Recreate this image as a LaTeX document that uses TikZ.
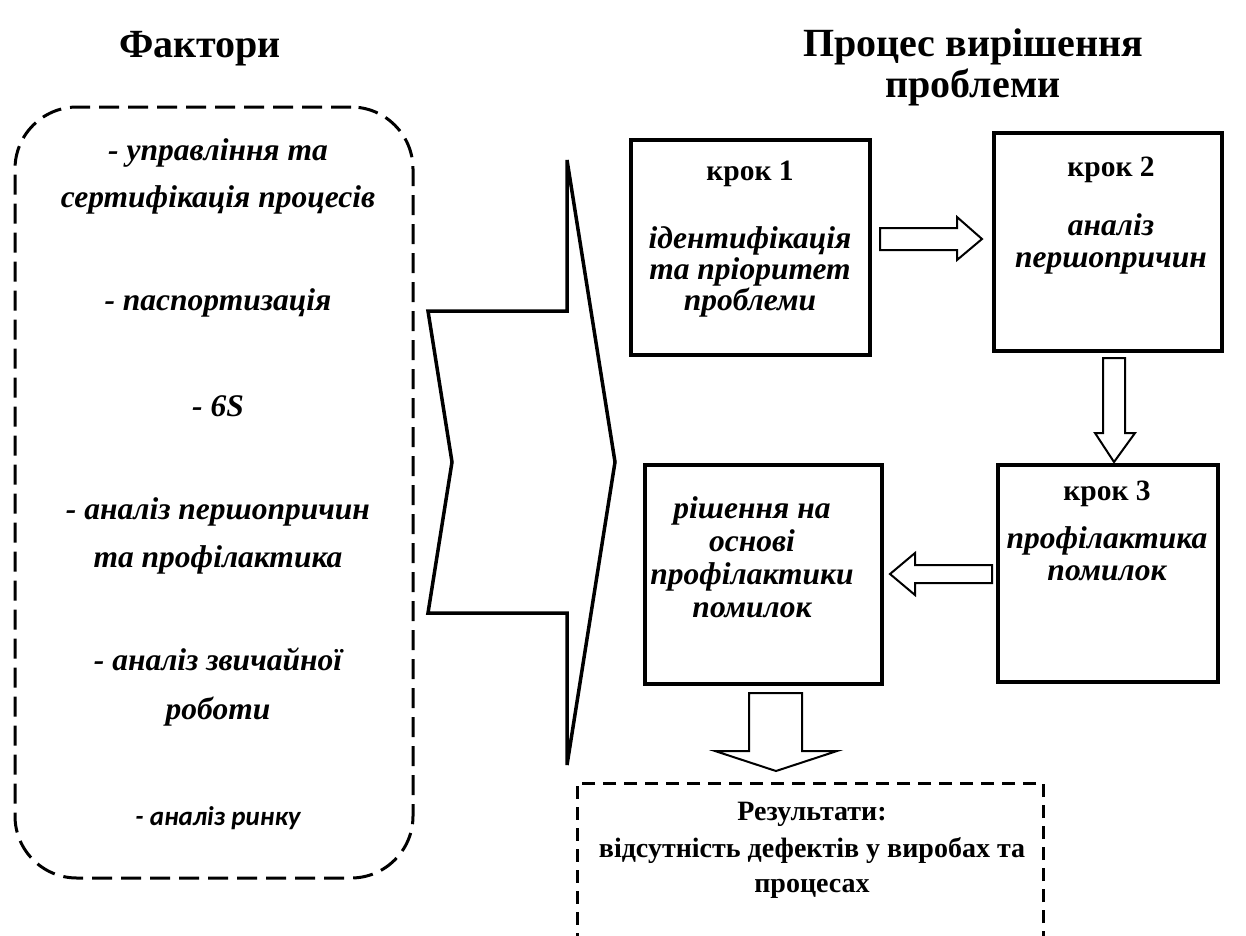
\documentclass[tikz,border=0pt]{standalone}
\usepackage{fontspec}
\setmainfont{Liberation Serif}
\newfontfamily\calfont{Carlito}
\begin{document}
\begin{tikzpicture}[x=1pt,y=-1pt,
  stepbox/.style={draw, line width=3.2pt, inner sep=0pt},
  dashbox/.style={draw, line width=3pt, inner sep=0pt, dash pattern=on 20pt off 9pt},
  hollow/.style={draw, line width=2pt, fill=white, line join=miter},
  bigarrow/.style={draw, line width=3.5pt, line join=miter},
  ttl/.style={font=\bfseries\fontsize{40}{44}\selectfont, anchor=base},
  stp/.style={font=\bfseries\fontsize{29.5}{31}\selectfont, anchor=base},
  res/.style={font=\bfseries\fontsize{28}{30}\selectfont, anchor=base},
  itl/.style={font=\bfseries\itshape\fontsize{31.5}{33}\selectfont, anchor=base},
  sanstl/.style={font=\calfont\bfseries\itshape\fontsize{27}{29}\selectfont, anchor=base}]
\useasboundingbox (0,0) rectangle (1246,935);

% titles
\node[ttl] (tf) at (200,57) {Фактори};
\node[ttl] (tp1) at (973,56) {Процес вирішення};
\node[ttl] (tp2) at (973,97) {проблеми};

% factors frame
\node[dashbox, rounded corners=62pt, minimum width=398pt, minimum height=771pt] (fbox) at (214,492.5) {};
\node[itl] (f1) at (218,160) {- управління та};
\node[itl] (f2) at (218,207) {сертифікація процесів};
\node[itl] (f3) at (218,310) {- паспортизація};
\node[itl] (f4) at (218,416) {- 6S};
\node[itl] (f5) at (218,519) {- аналіз першопричин};
\node[itl] (f6) at (218,567) {та профілактика};
\node[itl] (f7) at (218,670) {- аналіз звичайної};
\node[itl] (f8) at (218,719) {роботи};
\node[sanstl] (f9) at (218,825) {- аналіз ринку};

% large arrow from the factors to the process
\draw[bigarrow] (567,160) -- (567,311) -- (428,311) -- (452,462) -- (428,613)
  -- (567,613) -- (567,765) -- (615,462) -- cycle;

% process steps
\node[stepbox, minimum width=239pt, minimum height=215pt] (s1) at (750.5,247.5) {};
\node[stepbox, minimum width=228pt, minimum height=218pt] (s2) at (1108,242) {};
\node[stepbox, minimum width=220pt, minimum height=217pt] (s3) at (1108,573.5) {};
\node[stepbox, minimum width=237pt, minimum height=219pt] (s4) at (763.5,574.5) {};

\node[stp] (s1a) at (750,180) {крок 1};
\node[itl] (s1b) at (750,248) {ідентифікація};
\node[itl] (s1c) at (750,279) {та пріоритет};
\node[itl] (s1d) at (750,310) {проблеми};

\node[stp] (s2a) at (1111,176) {крок 2};
\node[itl] (s2b) at (1111,235) {аналіз};
\node[itl] (s2c) at (1111,267) {першопричин};

\node[stp] (s3a) at (1107,500) {крок 3};
\node[itl] (s3b) at (1107,548) {профілактика};
\node[itl] (s3c) at (1107,580) {помилок};

\node[itl] (s4a) at (752,518) {рішення на};
\node[itl] (s4b) at (752,551) {основі};
\node[itl] (s4c) at (752,584) {профілактики};
\node[itl] (s4d) at (752,617) {помилок};

% block arrows between the steps
\draw[hollow] (880,228) -- (957,228) -- (957,217) -- (982,239) -- (957,260)
  -- (957,250) -- (880,250) -- cycle;
\draw[hollow] (1103,358) -- (1125,358) -- (1125,433) -- (1135,433) -- (1114,462)
  -- (1095,433) -- (1103,433) -- cycle;
\draw[hollow] (992,565) -- (915,565) -- (915,553) -- (890,574) -- (915,595)
  -- (915,583) -- (992,583) -- cycle;
\draw[hollow] (749,693) -- (802,693) -- (802,751) -- (837,751) -- (776,771)
  -- (715,751) -- (749,751) -- cycle;

% results frame, open at the bottom edge
\node[draw, line width=3pt, dash pattern=on 13pt off 8pt, inner sep=0pt,
  minimum width=466pt, minimum height=220pt] (res) at (810,893) {};
\node[res] (r1) at (812,820) {Результати:};
\node[res] (r2) at (812,857) {відсутність дефектів у виробах та};
\node[res] (r3) at (812,892) {процесах};
\end{tikzpicture}
\end{document}
